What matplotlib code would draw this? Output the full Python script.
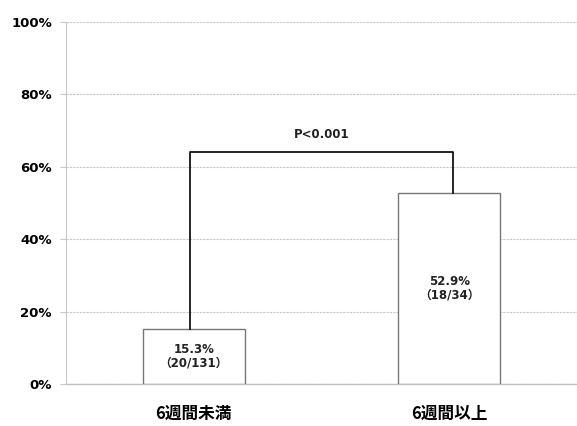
import matplotlib
matplotlib.use('Agg')
import matplotlib.pyplot as plt
import numpy as np

plt.rcParams['font.family'] = ['Noto Sans CJK JP', 'DejaVu Sans']
num_font = ['DejaVu Sans', 'Noto Sans CJK JP']

# data
categories = ['6週間未満', '6週間以上']
rates = [15.3, 52.9]
counts = ['（20/131）', '（18/34）']
p_text = 'P<0.001'
bracket_top = 64.0
yticks = [0, 20, 40, 60, 80, 100]

fig = plt.figure(figsize=(5.77, 4.26), dpi=100)
ax = fig.add_axes([66/577, 1-384/426, 1-66/577, (384-22)/426])

x = np.arange(len(categories))
ax.bar(x, rates, width=0.40, color='white', edgecolor='#777777', linewidth=1.0, zorder=3)

for i in range(len(categories)):
    ax.text(x[i], rates[i]/2, '%.1f%%\n%s' % (rates[i], counts[i]), ha='center', va='center',
            fontsize=8.5, fontweight='bold', color='#222222', linespacing=1.1, zorder=4,
            family=num_font)

# bracket
ax.plot([x[0]-0.015, x[0]-0.015, x[1]+0.015, x[1]+0.015],
        [rates[0], bracket_top, bracket_top, rates[1]],
        color='black', linewidth=1.2, zorder=5)
ax.text((x[0]+x[1])/2, bracket_top+4.8, p_text, ha='center', va='center',
        fontsize=8.5, fontweight='bold', color='#222222', family=num_font)

ax.set_xlim(-0.5, 1.5)
ax.set_ylim(0, 100)
ax.set_yticks(yticks)
ax.set_yticklabels(['%d%%' % v for v in yticks], fontsize=9.5, fontweight='bold', family=num_font)
ax.set_xticks(x)
ax.set_xticklabels(categories, fontsize=12, fontweight='bold')
ax.tick_params(axis='y', length=4.3, color='#c8c8c8', pad=5.8)
ax.tick_params(axis='x', length=0, pad=15)

ax.yaxis.grid(True, color='#c8c8c8', linestyle=(0, (2, 1)), linewidth=0.8, zorder=0)
for s in ['top', 'right']:
    ax.spines[s].set_visible(False)
ax.spines['left'].set_color('#c8c8c8')
ax.spines['left'].set_linestyle((0, (2, 1)))
ax.spines['left'].set_linewidth(0.8)
ax.spines['bottom'].set_color('#c0c0c0')
ax.spines['bottom'].set_linewidth(1.0)

fig.savefig('out.png', dpi=100)
